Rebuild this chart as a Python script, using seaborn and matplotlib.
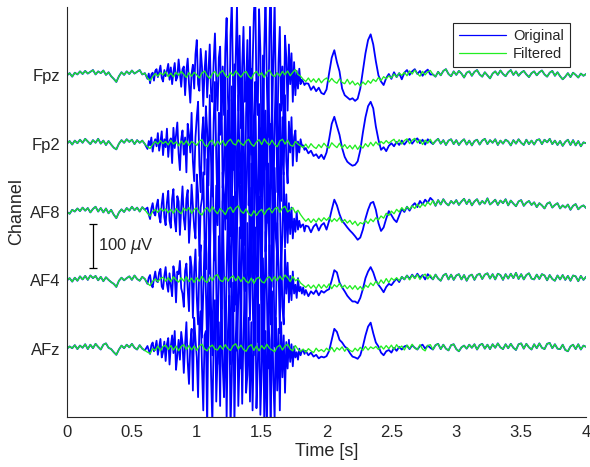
import numpy as np
import pandas as pd
import seaborn as sns
import matplotlib
matplotlib.use("Agg")
import matplotlib.pyplot as plt

# traces, in uV around each channel baseline
fs = 50           # filtered traces (and calm parts of the original)
fs_art = 100      # original during the muscle artefact, 0.62 - 1.84 s
n_samples = 201
seg_start = 31    # original departs from filtered at t = 0.62 s
seg_stop = 141    # ... and rejoins it after t = 2.80 s
art_t0 = 0.62
post_t0 = 1.86

channels = ['Fpz', 'Fp2', 'AF8', 'AF4', 'AFz']
spacing = 155  # uV between channels

fpz_filt = [
    0, 5, -3, 6, 2, 9, 3, 10, 4, 8,
    12, 2, 9, 5, 11, 1, 7, -2, -8, -15,
    -2, 7, 1, 9, 3, 11, 4, 8, 12, 2,
    5, -6, -12, -3, 4, -2, 6, 1, 8, -3,
    5, -4, 7, 0, 9, 2, -5, 6, -2, 7,
    1, -6, 5, 10, -1, -7, 4, 9, -3, 6,
    11, 0, -5, 7, -1, 10, 3, -4, 5, 9,
    -2, -8, 4, 9, -1, 6, -5, 7, 12, 1,
    -3, 6, -2, 9, 1, 10, -1, 7, 13, 2,
    -2, -9, -14, -6, -15, -8, -16, -7, -17, -10,
    -6, -15, -7, -14, -18, -8, -16, -19, -9, -20,
    -13, -22, -17, -24, -15, -21, -12, -18, -9, -14,
    -5, -12, -3, -8, -1, -6, 3, -4, 5, 0,
    7, -1, 10, 3, 12, 4, -2, 9, 1, 8,
    11, 2, -3, 8, 0, 10, 14, 3, -2, 9,
    1, 10, 4, -5, 6, 9, -1, 8, 12, 2,
    -3, 7, 0, -7, 4, 9, 1, 11, 3, -2,
    7, 12, 1, 9, -1, 6, 10, 2, -4, 5,
    9, 0, 7, 11, 2, -3, 6, 10, -1, 7,
    -2, -9, -3, 5, -4, 6, 1, -5, 4, -1,
    3]
fpz_art = [
    -8, 4, -18, 2, 6, -12, 10, 14, -4, 8,
    22, -6, -14, 12, -2, 10, 26, -10, 18, -20,
    8, 28, -12, -4, 36, 6, -26, 14, 20, -45,
    10, 38, -20, -62, 4, 24, -30, 48, 80, -20,
    -35, 60, 20, -70, 10, 55, -50, 10, 70, -40,
    -60, 30, 95, -10, -80, 40, 65, -100, 20, -90,
    60, 130, -50, -140, 90, 170, -30, -160, 40, 160,
    -80, 90, -120, 20, 110, -60, -30, 80, -150, 110,
    -180, 20, 140, 200, -40, -90, 150, 60, -200, -240,
    60, 190, -20, -140, 100, 230, -110, 40, 170, -60,
    -170, 30, 110, -80, 20, -130, 90, 40, -80, 70,
    -20, 50, -60, 30, -45, 10, -30, 15, -20, -10,
    -15, -22, -18]
fpz_post = [
    -19, -33, -25, -36, -28, -40, -43, -32,
    5, 40, 57, 30, 9, -30, -45, -50, -55, -52,
    -58, -53, -30, 10, 50, 80, 93, 70, 32, 0,
    -14, -22, -6, 3, -8, 7, -4, 5, -9, 6,
    12, 1, 9, 14, 3, 10, -1, 8, 13, 2]

fp2_filt = [
    0, 6, -2, 7, 1, 9, 2, 11, 5, -1,
    8, 2, 11, 0, 7, -3, 6, -2, -9, -13,
    0, 8, 2, 10, 4, 9, -1, 8, 2, 7,
    -1, -7, -11, -2, 5, -1, 7, 0, 5, -3,
    8, -1, 4, -5, 6, -2, 7, -4, 5, 1,
    -4, 6, 9, -3, -7, 4, 8, -5, 6, -2,
    7, -5, 5, 10, 0, -3, 9, 1, -4, 6,
    10, -1, -6, 4, 9, -2, 11, 2, -3, 8,
    -2, -7, 6, 10, -1, 8, -3, -6, 5, -1,
    -5, -9, -1, -10, 0, -7, -11, -2, -9, 1,
    -6, -10, 2, -4, -9, 1, -10, -2, -11, -4,
    -12, -3, -13, -4, -10, 0, -7, 3, -5, 4,
    -3, 5, 0, 7, 1, 6, 10, 0, 9, -1,
    7, 11, 0, 8, 12, 2, 9, -2, 8, 1,
    10, -1, 6, 11, 0, 8, -3, 7, 10, -1,
    8, -3, 5, 10, -2, 7, -4, 6, 9, -2,
    7, 11, -1, 8, 2, 10, -3, 7, 0, 9,
    5, -4, 8, 0, 10, 2, -3, 9, -1, 7,
    -2, 8, 10, -1, 9, 3, 11, -1, 7, -3,
    6, -5, 4, 9, -3, 8, -4, 6, -6, 3,
    1]
fp2_art = [
    -12, 6, -4, 14, -18, 2, 10, -6, 24, -16,
    4, 28, -26, 10, -8, 34, -30, 6, 12, -44,
    36, -10, 20, 48, -22, -60, 10, 30, -25, 14,
    -65, 45, 20, -20, 70, -40, -85, 15, 60, 95,
    -50, -110, 20, 60, -70, 85, 30, -95, 110, -40,
    -120, 50, 140, -30, -150, 70, 20, 120, -100, -60,
    150, -170, 40, 100, -210, 130, -60, 180, 20, -190,
    110, -40, -90, 160, 60, -230, 70, 190, -140, -20,
    170, -200, 60, 140, -100, -170, 90, 10, -120, 200,
    -60, 75, -180, 150, 30, -90, 120, -150, 45, 160,
    -110, 15, 90, -130, 60, -70, 110, -40, -90, 50,
    -20, 60, -50, 15, 30, -40, 5, -20, 10, -5,
    -4, -14, -10]
fp2_post = [
    -22, -16, -28, -24, -33, -25, -35, -20,
    10, 45, 61, 40, 20, -10, -30, -41, -46, -50,
    -48, -40, -15, 25, 60, 85, 95, 80, 39, 9,
    -14, -8, -17, -5, 1, -6, 4, -3, 7, -2,
    6, 11, 0, 8, 12, 1, 9, -2, 10, 4]

af8_filt = [
    0, -4, 5, 1, 8, 2, 10, 3, 9, -1,
    7, 12, 1, 9, -1, 8, -3, 5, -6, -14,
    -1, 6, 0, 9, 3, 12, 4, 10, 1, 11,
    5, -3, -9, 1, 6, -1, 8, 2, 7, -2,
    6, -3, 8, 1, -4, 9, 3, 10, -3, 6,
    9, -2, -7, 5, 10, 0, 12, 3, -4, 8,
    2, -6, 7, 11, -1, 9, 14, 2, -3, 7,
    -4, -9, 3, -8, 1, 6, -6, 4, 9, -2,
    7, 11, -1, 9, 13, 0, 5, 10, -2, 4,
    -6, -14, -21, -15, -24, -16, -23, -14, -21, -13,
    -19, -12, -22, -15, -21, -13, -24, -17, -25, -19,
    -28, -21, -31, -24, -27, -19, -26, -16, -22, -13,
    -18, -9, -14, -3, -8, 2, -4, 6, 0, 10,
    3, 12, 6, 14, 8, 18, 10, 19, 13, 23,
    16, 26, 14, 27, 17, 29, 20, 15, 25, 19,
    27, 16, 24, 30, 18, 28, 15, 24, 29, 17,
    25, 19, 31, 17, 22, 28, 16, 26, 20, 29,
    15, 26, 19, 13, 24, 27, 14, 21, 25, 16,
    22, 11, 20, 15, 8, 19, 22, 10, 16, 20,
    8, 15, 10, 17, 5, 14, 18, 6, 12, 15,
    9]
af8_art = [
    10, -6, -16, 8, 20, -2, -8, 14, 28, -10,
    -24, 18, 42, -12, -30, 22, 48, -20, -36, 30,
    52, -18, -44, 36, 24, -52, 10, 58, -15, -40,
    30, 50, -70, -20, 62, 15, -35, -60, 85, 40,
    -100, 10, 30, 90, -60, -130, 120, 20, -140, 50,
    150, -40, -110, 60, -30, 180, -120, -220, 90, 40,
    -40, 160, 230, -70, -170, 20, 140, 200, -210, -50,
    130, 60, -60, 240, -100, -180, 40, 120, 170, -230,
    110, -20, -150, 220, 30, -160, 60, 190, -200, 80,
    140, -90, -20, 110, -140, 200, 50, -170, 100, -60,
    -100, 150, 35, -120, -55, 90, -80, 40, -70, 20,
    -50, 10, -60, -15, -45, 0, -40, -20, -35, -30,
    -28, -44, -31]
af8_post = [
    -33, -46, -33, -27, -42, -30, -25, -40,
    -20, 5, 28, 15, -5, -20, -27, -35, -42, -48,
    -55, -63, -58, -40, -15, 5, 20, 23, 5, -25,
    -43, -35, -15, 2, -7, -17, -23, -8, 7, 0,
    12, 3, 14, 20, 11, 25, 17, 28, 21, 32]

af4_filt = [
    0, 5, -3, 6, -1, 9, 2, 10, 1, 11,
    5, 10, 0, 8, -2, 7, 1, -4, -8, -15,
    -1, 6, 0, 5, 9, 1, 11, 3, -1, 8,
    3, -7, -12, -2, 3, -3, 4, 7, -2, 6,
    -3, 8, 1, -4, 6, -2, 8, -3, 5, -5,
    6, -2, 9, -1, -5, 8, -1, 10, 13, 0,
    -3, 8, -2, 6, 10, -1, 9, -3, 7, -2,
    -6, 5, -7, 4, 7, -3, -6, 5, 8, -2,
    9, -1, 10, 1, 12, 6, -3, 9, -1, 3,
    -6, -11, -16, -10, -18, -11, -19, -9, -18, -10,
    -17, -8, -19, -10, -15, -7, -17, -11, -19, -12,
    -20, -12, -21, -14, -22, -11, -16, -6, -12, -2,
    -9, 1, -7, 4, -5, 5, 0, 6, -1, 8,
    2, 11, 1, 12, 4, 13, 2, 10, 14, 3,
    12, 2, 13, 4, -1, 11, 15, 2, 13, 1,
    11, 14, 2, 12, -1, 10, 13, 1, 12, 15,
    3, 13, 16, 4, 14, 2, 15, 12, 1, 14,
    4, 15, 5, 17, 3, 14, 2, 12, 16, 4,
    2, 13, 3, 14, 11, 0, 12, 3, -1, 11,
    2, 12, 1, 10, -1, 11, 9, -2, 10, 1,
    8]
af4_art = [
    -8, 6, 12, -10, -16, 4, 20, -2, -4, 18,
    26, -14, -20, 10, 30, -8, -26, 16, -12, -36,
    32, 12, -50, 20, 14, 44, -18, -30, -60, 22,
    38, -20, -70, 54, 30, -85, 20, 70, -40, -100,
    40, 80, -130, -30, 90, -20, -150, 60, 120, -60,
    -170, 30, 160, -20, -190, 100, 40, -140, 180, 10,
    -210, 30, 160, -60, -190, 100, 190, -70, 200, -160,
    -40, 120, -200, 170, 60, -90, -230, 130, 20, -90,
    210, -40, -170, 120, 20, -140, 190, 150, -180, 50,
    -140, 110, -30, -200, 80, -100, 160, 65, -150, -75,
    130, 30, -120, 90, -60, -100, 70, -30, 40, -50,
    10, -45, 20, -30, -10, -40, 5, -25, -15, -30,
    -16, -33, -22]
af4_post = [
    -36, -25, -31, -22, -34, -24, -28, -23,
    -20, 0, 23, 18, -5, -16, -25, -35, -42, -48,
    -48, -52, -40, -20, 5, 20, 30, 18, 0, -10,
    -18, -27, -15, -8, -11, -3, 4, -4, 8, 2,
    11, 3, 13, 5, 15, 6, 12, 2, 14, 8]

afz_filt = [
    0, 5, 1, 8, -1, 7, 2, 10, -1, 9,
    1, 11, 4, -2, 9, 12, 2, -1, -8, -14,
    -2, 7, 1, 9, 3, 11, 2, -2, 8, 0,
    -4, -8, -11, 0, -4, 6, -5, 5, 8, -2,
    7, -3, 6, -5, 5, 9, -2, 7, -3, 6,
    -4, 6, 10, -1, -5, 4, 8, -1, -3, 7,
    -1, 9, 0, -4, 7, 11, -1, 8, -2, -6,
    5, 9, -4, 6, -5, 7, -1, 10, 1, -3,
    -7, 4, 8, -3, 6, 10, -1, -5, 7, -2,
    -6, -1, -8, 0, -5, -9, 1, -6, -2, -7,
    1, -5, 3, -7, 2, -3, 4, -6, 2, -4,
    -7, 1, -5, 3, -4, 5, -3, 4, 0, 5,
    -2, 6, -1, 7, 0, 8, -2, 9, 1, 6,
    -3, 8, 0, 10, 1, -2, 9, -1, -5, 7,
    9, -2, 8, 11, -1, 9, 0, -4, 8, 10,
    -1, -6, 3, 7, 0, 9, 2, 10, -2, 8,
    11, 0, 9, -1, 10, 2, 12, 3, -1, 10,
    1, 11, 2, -3, 10, 12, 0, 11, 3, -2,
    10, 1, 12, 2, -1, 11, 13, 1, 10, 0,
    -1, 9, -3, -6, 5, 9, -1, 10, -2, 7,
    4]
afz_art = [
    6, -4, -12, 8, 14, -6, 2, 18, -14, 4,
    22, -20, -8, 16, -28, 10, 24, -36, 6, 30,
    -10, 40, -48, -16, 20, -25, 38, 12, -55, 10,
    60, -30, -80, 10, 45, -95, 70, 20, -20, -110,
    55, 85, -40, -140, 30, 40, -180, 90, 150, -60,
    -170, 20, 110, -120, -20, 60, -130, 140, -40, -110,
    90, -160, 40, 120, -180, -60, 150, -170, 20, 110,
    -130, -20, 80, -125, 40, 130, -100, -60, 70, -120,
    60, -140, 20, 150, -135, -40, 100, -150, -50, 120,
    -165, 40, -190, 80, 20, -200, 130, -70, -160, 70,
    -95, 45, -140, 60, -65, 30, -100, 15, -45, 20,
    -30, 10, -40, 5, -20, -8, -25, 0, -15, -5,
    -3, -12, -5]
afz_post = [
    -15, -9, -18, -14, -22, -18, -20, -17,
    -5, 20, 45, 38, 20, 14, 5, 0, -10, -18,
    -20, -23, -15, 5, 30, 50, 59, 35, 14, 5,
    -9, -15, -6, -3, -9, 2, -5, 4, -2, 5,
    7, -1, 8, 2, -2, 6, 9, 0, 7, 2]

filtered = [fpz_filt, fp2_filt, af8_filt, af4_filt, afz_filt]
artefact = [fpz_art, fp2_art, af8_art, af4_art, afz_art]
after = [fpz_post, fp2_post, af8_post, af4_post, afz_post]

t = np.arange(n_samples) / fs
t_art = art_t0 + np.arange(len(fpz_art)) / fs_art
t_post = post_t0 + np.arange(len(fpz_post)) / fs
t_orig = np.concatenate([t[:seg_start], t_art, t_post, t[seg_stop:]])

rows = []
for i, ch in enumerate(channels):
    offset = (len(channels) - i) * spacing
    filt = np.array(filtered[i], dtype=float)
    orig = np.concatenate([filt[:seg_start], artefact[i], after[i], filt[seg_stop:]])
    rows.append(pd.DataFrame({'time': t_orig, 'value': orig + offset,
                              'signal': 'Original', 'channel': ch}))
    rows.append(pd.DataFrame({'time': t, 'value': filt + offset,
                              'signal': 'Filtered', 'channel': ch}))
df = pd.concat(rows, ignore_index=True)

sns.set_style('white')
plt.rcParams['font.family'] = ['Liberation Sans', 'DejaVu Sans']

fig = plt.figure(figsize=(5.9, 4.67), dpi=100)
ax = fig.add_axes([0.1136, 0.1071, 0.8797, 0.8779])

sns.lineplot(data=df, x='time', y='value', hue='signal', units='channel',
             estimator=None, hue_order=['Original', 'Filtered'],
             palette={'Original': '#0000ff', 'Filtered': '#22ee22'},
             size='signal', sizes={'Original': 1.3, 'Filtered': 0.95},
             ax=ax, sort=False, legend=False)

ax.set_xlim(0, 4)
ax.set_ylim(0, (len(channels) + 1) * spacing)
ax.set_xticks([0, 0.5, 1, 1.5, 2, 2.5, 3, 3.5, 4])
ax.set_xticklabels(['0', '0.5', '1', '1.5', '2', '2.5', '3', '3.5', '4'])
ax.set_yticks([(len(channels) - i) * spacing for i in range(len(channels))])
ax.set_yticklabels(channels)
ax.tick_params(axis='x', direction='in', length=3.5, width=0.8, colors='#262626',
               labelsize=12, pad=6)
ax.tick_params(axis='y', length=0, colors='#262626', labelsize=12, pad=5)
ax.set_xlabel('Time [s]', fontsize=13, color='#262626', labelpad=2)
ax.set_ylabel('Channel', fontsize=13, color='#262626', labelpad=3)

for side in ['top', 'right']:
    ax.spines[side].set_visible(False)
for side in ['left', 'bottom']:
    ax.spines[side].set_color('#262626')
    ax.spines[side].set_linewidth(0.8)

# 100 uV scale bar between AF8 and AF4
bar_uv = 100
bar_y = 2.5 * spacing
ax.errorbar([0.2], [bar_y], yerr=bar_uv / 2, color='black', lw=0.9,
            capsize=3, capthick=0.9)
ax.text(0.24, bar_y, r'100 $\mu$V', fontsize=12, va='center', ha='left')

handles = [plt.Line2D([], [], color='#0000ff', lw=0.9),
           plt.Line2D([], [], color='#22ee22', lw=0.9)]
leg = ax.legend(handles, ['Original', 'Filtered'], loc='upper right',
                bbox_to_anchor=(0.969, 0.961), borderaxespad=0, frameon=True,
                fancybox=False, framealpha=1, edgecolor='#262626', fontsize=10.5,
                handlelength=3.2, borderpad=0.4, labelspacing=0.3,
                handletextpad=0.5)
leg.get_frame().set_linewidth(0.8)

fig.savefig('out.png', dpi=100)
